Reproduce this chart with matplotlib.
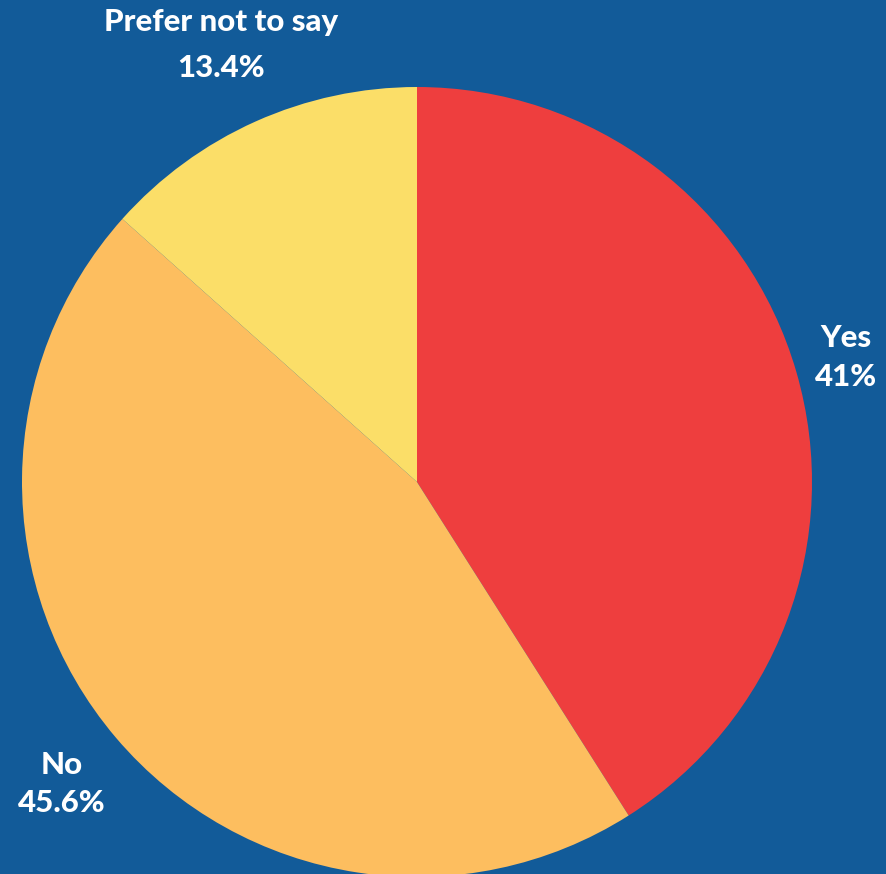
import numpy as np
import matplotlib.pyplot as plt

# Survey answers
labels = ['Yes', 'No', 'Prefer not to say']
shares = [41, 45.6, 13.4]
pct_text = ['41%', '45.6%', '13.4%']
colors = ['#EE3E3E', '#FDBE5F', '#FBDE68']

BG = '#125B99'
W, H = 887, 874
CX, CY, R = 417, 482, 395   # pie centre / radius in pixels

fig = plt.figure(figsize=(W / 100, H / 100), dpi=100, facecolor=BG)
ax = fig.add_axes([0, 0, 1, 1])
ax.set_facecolor(BG)

wedges, _ = ax.pie(shares, colors=colors, startangle=90, counterclock=False,
                   radius=1, center=(0, 0),
                   wedgeprops=dict(linewidth=0))

ax.set_xlim(-CX / R, (W - CX) / R)
ax.set_ylim(-(H - CY) / R, CY / R)
ax.set_aspect('equal')
ax.axis('off')

# label each slice outside, along the wedge's middle angle
dist = [1.13, 1.18, 1.212]
spacing = [1.48, 1.43, 1.77]
for w, lab, pct, d, ls in zip(wedges, labels, pct_text, dist, spacing):
    mid = np.deg2rad((w.theta1 + w.theta2) / 2)
    ax.text(d * np.cos(mid), d * np.sin(mid), lab + '\n' + pct,
            ha='center', va='center', color='white', fontsize=22.5,
            fontweight='black', family='Lato', linespacing=ls)

fig.savefig('out.png', dpi=100, facecolor=BG)
